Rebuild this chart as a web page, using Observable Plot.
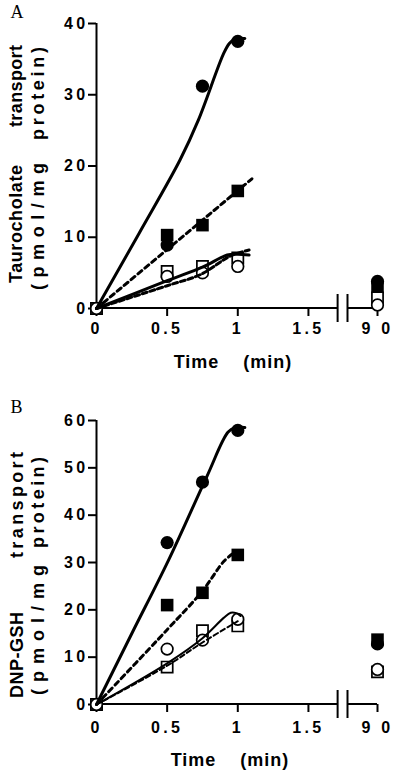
<!DOCTYPE html>
<html>
<head>
<meta charset="utf-8">
<script src="https://cdn.jsdelivr.net/npm/d3@7"></script>
<script src="https://cdn.jsdelivr.net/npm/@observablehq/plot@0.6"></script>
<style>
  html, body { margin: 0; padding: 0; background: #fff; }
  #chart { width: 400px; }
  #chart svg { display: block; }
  g[aria-label="y-axis tick label"], g[aria-label="x-axis tick label"] { letter-spacing: 3.3px; }
</style>
</head>
<body>
<div id="chart"></div>
<script>
// ---------- shared ----------
const times = [0, 0.5, 0.75, 1, 90];
const xTicks = [0, 0.5, 1, 1.5, 90];
const xTickLabels = ["0", "0.5", "1", "1.5", "9 0"];
const xLabel = "Time\u00A0\u00A0\u00A0\u00A0(min)";

// ---------- Panel A: taurocholate ----------
const tcTicks = [0, 10, 20, 30, 40];
const tcFilledCircle = [0, 8.9, 31.2, 37.5, 3.8];
const tcFilledSquare = [0, 10.3, 11.7, 16.5, 3.0];
const tcOpenSquare   = [0, 5.2, 5.9, 7.1, 1.5];
const tcOpenCircle   = [0, 4.5, 5.0, 5.9, 0.5];
const tcFitFilledCircleT = [0, 0.3, 0.59, 0.72, 0.9, 0.94, 0.98, 1.05];
const tcFitFilledCircleV = [0, 10.5, 20.8, 26.4, 35.8, 37.2, 37.8, 37.9];
const tcFitFilledSquareT = [0, 1.1];
const tcFitFilledSquareV = [0, 18.2];
const tcFitOpenCircleT = [0, 0.5, 0.75, 0.925, 1.0, 1.08];
const tcFitOpenCircleV = [0, 3.9, 5.8, 7.5, 7.6, 7.5];
const tcFitOpenSquareT = [0, 0.5, 0.74, 0.95, 1.08];
const tcFitOpenSquareV = [0, 3.2, 4.8, 7.4, 8.2];
const tcLabelWords = ["Taurocholate", "transport", "(pmol/mg", "protein)"];

// ---------- Panel B: DNP-GSH ----------
const gsTicks = [0, 10, 20, 30, 40, 50, 60];
const gsFilledCircle = [0, 34.2, 47.0, 57.9, 12.8];
const gsFilledSquare = [0, 21.0, 23.6, 31.6, 13.7];
const gsOpenSquare   = [0, 7.9, 15.6, 16.6, 6.9];
const gsOpenCircle   = [0, 11.7, 13.6, 18.0, 7.4];
const gsFitFilledCircleT = [0, 0.25, 0.51, 0.78, 0.93, 0.98, 1.05];
const gsFitFilledCircleV = [0, 15, 30.5, 48.1, 57.5, 58.5, 58.5];
const gsFitFilledSquareT = [0, 0.5, 0.75, 0.9, 0.97];
const gsFitFilledSquareV = [0, 15.8, 24.0, 30.2, 32.0];
const gsFitOpenCircleT = [0, 0.5, 0.75, 0.9, 0.95, 0.99, 1.02];
const gsFitOpenCircleV = [0, 8.7, 14.0, 18.3, 19.4, 19.3, 18.7];
const gsFitOpenSquareT = [0, 0.5, 0.75, 1.0];
const gsFitOpenSquareV = [0, 8.2, 13.1, 17.6];
const gsLabelWords = ["DNP-GSH", "transport", "(pmol/mg", "protein)"];

const SANS = '"Liberation Sans", Arial, Helvetica, sans-serif';
const SERIF = '"Liberation Serif", "Times New Roman", serif';
const BREAK_L = 1.71, BREAK_R = 1.78;

function panel(cfg) {
  const rows = v => times.map((t, i) => ({t, v: v[i]}));
  const fit = (T, V, opts) => Plot.line(T.map((t, i) => ({t, v: V[i]})),
    {x: "t", y: "v", stroke: "black", curve: "catmull-rom", ...opts});

  // x axis line with a break before the 90-min point
  const axisBreak = (index, {x, y}) => {
    const g = d3.create("svg:g").attr("stroke", "black").attr("stroke-width", 2).attr("fill", "none");
    const y0 = y(0);
    g.append("line").attr("x1", x(0)).attr("x2", x(BREAK_L)).attr("y1", y0).attr("y2", y0);
    g.append("line").attr("x1", x(BREAK_R)).attr("x2", x(90)).attr("y1", y0).attr("y2", y0);
    for (const b of [BREAK_L, BREAK_R]) {
      g.append("line").attr("x1", x(b)).attr("x2", x(b)).attr("y1", y0 - 14).attr("y2", y0 + 14);
    }
    return g.node();
  };

  // two-line, justified, rotated y-axis title
  const yTitle = () => {
    const g = d3.create("svg:g").attr("fill", "black");
    cfg.wordLayout.forEach((w, i) => {
      g.append("text")
        .attr("transform", `translate(${w[0]},${w[1]}) rotate(-90)`)
        .attr("text-anchor", w[2])
        .attr("textLength", w[3])
        .attr("lengthAdjust", "spacing")
        .style("font-family", SANS)
        .style("font-size", "18px")
        .style("font-weight", "bold")
        .style("letter-spacing", "0px")
        .text(cfg.words[i]);
    });
    return g.node();
  };

  const svg = Plot.plot({
    width: 400,
    height: cfg.height,
    marginLeft: 96,
    marginRight: 23,
    marginTop: cfg.mt,
    marginBottom: cfg.mb,
    style: {fontFamily: SANS, fontSize: "16px", fontWeight: "bold", letterSpacing: "1px", color: "black", background: "white"},
    x: {type: "linear", domain: [0, BREAK_R, 90], range: [96, 347.5, 377]},
    y: {domain: [0, cfg.yMax]},
    marks: [
      Plot.ruleX([0], {stroke: "black", strokeWidth: 2}),
      Plot.axisY({ticks: cfg.yTicks, tickSize: 8, tickPadding: 0, strokeWidth: 2, label: null, fontSize: 16, fontWeight: "bold"}),
      Plot.axisX({ticks: xTicks, tickFormat: d => xTickLabels[xTicks.indexOf(d)], tickSize: 8, tickPadding: cfg.xPad, strokeWidth: 2, label: null, fontSize: 16, fontWeight: "bold"}),
      axisBreak,
      Plot.dot(rows(cfg.filledCircle), {x: "t", y: "v", symbol: "circle", r: 6.6, fill: "black"}),
      Plot.dot(rows(cfg.filledSquare), {x: "t", y: "v", symbol: "square", r: 7.1, fill: "black"}),
      Plot.dot(rows(cfg.openSquare), {x: "t", y: "v", symbol: "square", r: 6.3, fill: "white", stroke: "black", strokeWidth: 1.7}),
      Plot.dot(rows(cfg.openCircle), {x: "t", y: "v", symbol: "circle", r: 5.8, fill: "white", stroke: "black", strokeWidth: 1.7}),
      fit(cfg.fitFCT, cfg.fitFCV, {strokeWidth: 3}),
      fit(cfg.fitFST, cfg.fitFSV, {strokeWidth: 3, strokeDasharray: "5,4"}),
      fit(cfg.fitOCT, cfg.fitOCV, {strokeWidth: cfg.lowW}),
      fit(cfg.fitOST, cfg.fitOSV, {strokeWidth: cfg.lowW, strokeDasharray: "5,3"}),
      yTitle,
      Plot.text([xLabel], {text: d => d, frameAnchor: "bottom", lineAnchor: "bottom", dx: cfg.timeDx, dy: cfg.timeDy, fontSize: 18, fontWeight: "bold", ariaLabel: "x-title"}),
      Plot.text([cfg.letter], {text: d => d, frameAnchor: "top-left", textAnchor: "start", lineAnchor: "bottom", dx: -86, dy: cfg.letterDy, fontFamily: SERIF, fontWeight: "normal", fontSize: 18, ariaLabel: "panel-letter"})
    ]
  });
  const sel = d3.select(svg);
  sel.select('g[aria-label="panel-letter"]').style("letter-spacing", "0px");
  sel.select('g[aria-label="x-title"]').style("letter-spacing", "0.8px");
  return svg;
}

const chart = document.getElementById("chart");
chart.appendChild(panel({
  height: 387, mt: 23, mb: 79, yMax: 40, yTicks: tcTicks, xPad: 6, lowW: 3,
  filledCircle: tcFilledCircle, filledSquare: tcFilledSquare, openSquare: tcOpenSquare, openCircle: tcOpenCircle,
  fitFCT: tcFitFilledCircleT, fitFCV: tcFitFilledCircleV, fitFST: tcFitFilledSquareT, fitFSV: tcFitFilledSquareV,
  fitOCT: tcFitOpenCircleT, fitOCV: tcFitOpenCircleV, fitOST: tcFitOpenSquareT, fitOSV: tcFitOpenSquareV,
  words: tcLabelWords,
  wordLayout: [[22, 283, "start", 118], [22, 45, "end", 82], [44, 290, "start", 127], [44, 47, "end", 93]],
  timeDx: -4, timeDy: 59, letter: "A", letterDy: -6
}));
chart.appendChild(panel({
  height: 388, mt: 33, mb: 71, yMax: 60, yTicks: gsTicks, xPad: 9, lowW: 2,
  filledCircle: gsFilledCircle, filledSquare: gsFilledSquare, openSquare: gsOpenSquare, openCircle: gsOpenCircle,
  fitFCT: gsFitFilledCircleT, fitFCV: gsFitFilledCircleV, fitFST: gsFitFilledSquareT, fitFSV: gsFitFilledSquareV,
  fitOCT: gsFitOpenCircleT, fitOCV: gsFitOpenCircleV, fitOST: gsFitOpenSquareT, fitOSV: gsFitOpenSquareV,
  words: gsLabelWords,
  wordLayout: [[23, 311, "start", 86], [23, 65, "end", 106], [44, 308, "start", 130], [44, 70, "end", 91]],
  timeDx: -7, timeDy: 61, letter: "B", letterDy: -8
}));
</script>
</body>
</html>
